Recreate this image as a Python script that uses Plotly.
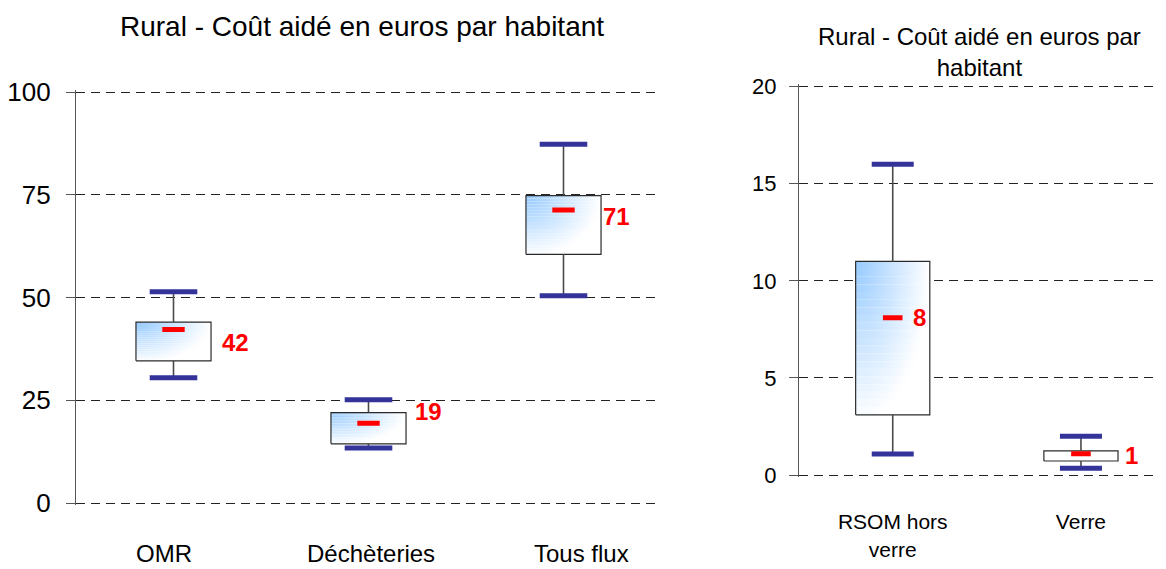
import numpy as np
import plotly.graph_objects as go

# left chart data
cats_left = ["OMR", "Déchèteries", "Tous flux"]
low_left = [30.5, 13.4, 50.4]
q1_left = [34.6, 14.4, 60.5]
q3_left = [44.0, 22.0, 74.8]
high_left = [51.4, 25.1, 87.3]
mean_left = [42.2, 19.4, 71.3]

# right chart data
cats_right = ["RSOM hors<br>verre", "Verre"]
low_right = [1.08, 0.35]
q1_right = [3.1, 0.72]
q3_right = [11.0, 1.24]
high_right = [16.0, 2.0]
mean_right = [8.1, 1.1]

title_text = "Rural - Coût aidé en euros par habitant"

# label offsets in px (style)
lab_dx_left = [46, 44, 37]
lab_dy_left = [-13, 12, -7]
lab_dx_right = [18, 42]
lab_dy_right = [0, -2]
# category label nudges in px (style)
cat_dx_left = [-10, 2, 18]

FONT = "Liberation Sans, Arial, sans-serif"
BLUE = np.array([150, 202, 255])
WHITE = np.array([255, 255, 255])

# the page body has an 8px margin: figure is placed at (8, 8) in a 1166x569 window
OFF = 8
W, H = 1166 - OFF, 569 - OFF


def fx(px):
    return (px - OFF) / W


def fy(py):
    return (569 - py) / H


def ydomain(p_lo, p_hi, v_lo, v_hi, ext):
    # extend the range a little so the end gridlines are not clipped
    s = (p_lo - p_hi) / (v_hi - v_lo)
    return [fy(p_lo + ext * s), fy(p_hi - ext * s)], [v_lo - ext, v_hi + ext]


def shade(u, v):
    t = np.clip(1 - np.sqrt(u ** 2 + (0.95 * v) ** 2), 0, 1)
    c = WHITE + (BLUE - WHITE) * t
    return "rgb(%d,%d,%d)" % tuple(np.round(c).astype(int))


def add_boxes(fig, lows, q1s, q3s, highs, means, xa, ya, width, capsize, meansize,
              dxs, dys):
    nstrip = 20
    for i in range(len(q1s)):
        x0, x1 = i - width / 2, i + width / 2
        edges = np.linspace(q3s[i], q1s[i], nstrip + 1)
        for k in range(nstrip):
            v = (k + 0.5) / nstrip
            us = np.linspace(0, 1, 11)
            cs = [[float(u), shade(u, v)] for u in us]
            fig.add_trace(go.Scatter(
                x=[x0, x1, x1, x0, x0],
                y=[edges[k], edges[k], edges[k + 1], edges[k + 1], edges[k]],
                mode="lines", line=dict(width=0), fill="toself",
                fillgradient=dict(type="horizontal", colorscale=cs),
                hoverinfo="skip", showlegend=False, xaxis=xa, yaxis=ya))
        # box outline
        fig.add_trace(go.Scatter(
            x=[x0, x1, x1, x0, x0], y=[q1s[i], q1s[i], q3s[i], q3s[i], q1s[i]],
            mode="lines", line=dict(color="#2a2a2a", width=1.2),
            hoverinfo="skip", showlegend=False, xaxis=xa, yaxis=ya))
        # whiskers
        fig.add_trace(go.Scatter(
            x=[i, i, None, i, i], y=[q3s[i], highs[i], None, q1s[i], lows[i]],
            mode="lines", line=dict(color="#4a4a4a", width=1.6),
            hoverinfo="skip", showlegend=False, xaxis=xa, yaxis=ya))
        # caps
        fig.add_trace(go.Scatter(
            x=[i, i], y=[lows[i], highs[i]], mode="markers",
            marker=dict(symbol="line-ew", size=capsize,
                        line=dict(color="#333399", width=5)),
            hoverinfo="skip", showlegend=False, xaxis=xa, yaxis=ya))
        # mean
        fig.add_trace(go.Scatter(
            x=[i], y=[means[i]], mode="markers",
            marker=dict(symbol="line-ew", size=meansize,
                        line=dict(color="#ff0000", width=5)),
            showlegend=False, xaxis=xa, yaxis=ya))
        fig.add_annotation(
            x=i, y=means[i], xref=xa, yref=ya, text="%.0f" % means[i],
            showarrow=False, xanchor="left", yanchor="middle",
            xshift=dxs[i], yshift=dys[i],
            font=dict(family=FONT, size=24, color="#ff0000", weight="bold"))


fig = go.Figure()
add_boxes(fig, low_left, q1_left, q3_left, high_left, mean_left, "x", "y",
          0.385, 34, 16, lab_dx_left, lab_dy_left)
add_boxes(fig, low_right, q1_right, q3_right, high_right, mean_right, "x2", "y2",
          0.394, 30, 14, lab_dx_right, lab_dy_right)

# category labels of the left chart
for i, name in enumerate(cats_left):
    fig.add_annotation(x=i, y=0, xref="x", yref="y", text=name, showarrow=False,
                       xanchor="center", yanchor="middle", xshift=cat_dx_left[i],
                       yshift=-50, font=dict(family=FONT, size=24))

grid = dict(showgrid=True, gridcolor="#222222", gridwidth=1, griddash="9px,6px",
            showline=True, linecolor="#555555", linewidth=1.2, ticks="outside",
            ticklen=9, tickcolor="#555555", zeroline=False, automargin=False)

dom_y, rng_y = ydomain(503, 92, 0, 100, 0.6)
dom_y2, rng_y2 = ydomain(475, 86.7, 0, 20, 0.12)

fig.update_layout(
    width=W, height=H,
    margin=dict(l=0, r=0, t=0, b=0),
    paper_bgcolor="white", plot_bgcolor="white",
    font=dict(family=FONT, color="#000000"),
    xaxis=dict(domain=[fx(76), fx(661)], range=[-0.5, 2.5],
               showticklabels=False, showgrid=False, zeroline=False,
               showline=False, ticks="", automargin=False),
    yaxis=dict(domain=dom_y, range=rng_y, dtick=25,
               tickfont=dict(size=26), ticklabelstandoff=10, **grid),
    xaxis2=dict(domain=[fx(799), fx(1160)], range=[-0.498, 1.42],
                tickvals=list(range(len(cats_right))), ticktext=cats_right,
                showgrid=False, zeroline=False, showline=False, ticks="",
                ticklabelstandoff=30, tickfont=dict(size=21), anchor="y2",
                automargin=False),
    yaxis2=dict(domain=dom_y2, range=rng_y2, dtick=5,
                tickfont=dict(size=22), ticklabelstandoff=8, anchor="x2", **grid),
)

fig.add_annotation(x=fx(362), y=fy(26), xref="paper", yref="paper",
                   text=title_text, showarrow=False, xanchor="center",
                   yanchor="middle", font=dict(family=FONT, size=28))
fig.add_annotation(x=fx(979), y=fy(52), xref="paper", yref="paper",
                   text="Rural - Coût aidé en euros par<br>habitant",
                   showarrow=False, xanchor="center", yanchor="middle",
                   font=dict(family=FONT, size=24))

fig.write_html("out.html")
